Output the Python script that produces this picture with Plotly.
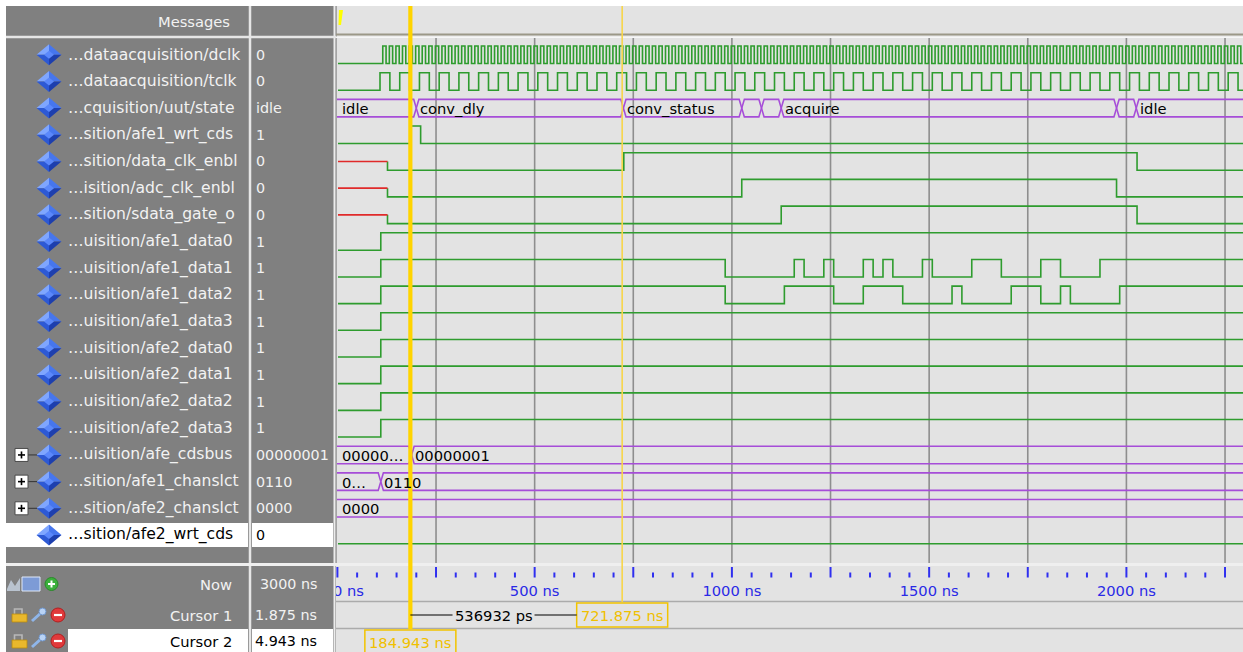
import plotly.graph_objects as go

# ======================= data =======================
signal_names = [
    "…dataacquisition/dclk", "…dataacquisition/tclk", "…cquisition/uut/state",
    "…sition/afe1_wrt_cds", "…sition/data_clk_enbl", "…isition/adc_clk_enbl",
    "…sition/sdata_gate_o", "…uisition/afe1_data0", "…uisition/afe1_data1",
    "…uisition/afe1_data2", "…uisition/afe1_data3", "…uisition/afe2_data0",
    "…uisition/afe2_data1", "…uisition/afe2_data2", "…uisition/afe2_data3",
    "…uisition/afe_cdsbus", "…sition/afe1_chanslct", "…sition/afe2_chanslct",
    "…sition/afe2_wrt_cds",
]
signal_values = ["0", "0", "idle", "1", "0", "0", "0", "1", "1", "1", "1",
                 "1", "1", "1", "1", "00000001", "0110", "0000", "0"]
expandable_rows = [15, 16, 17]
selected_row = 18

# clocks (ns)
dclk_first_rise_ns = 115.0
dclk_period_ns = 16.667
tclk_first_rise_ns = 108.0
tclk_period_ns = 50.0

# single-bit signals: change times (ns) and levels ("X" = unknown)
afe1_wrt_cds_t = [0, 186, 211]
afe1_wrt_cds_v = ["0", "1", "0"]
data_clk_enbl_t = [0, 127, 726, 2027]
data_clk_enbl_v = ["X", "0", "1", "0"]
adc_clk_enbl_t = [0, 127, 1025, 1975]
adc_clk_enbl_v = ["X", "0", "1", "0"]
sdata_gate_o_t = [0, 127, 1125, 2027]
sdata_gate_o_v = ["X", "0", "1", "0"]
afe1_data0_t = [0, 110]
afe1_data0_v = ["0", "1"]
afe1_data1_t = [0, 110, 983, 1158, 1183, 1233, 1258, 1333, 1358, 1383, 1408,
                1483, 1508, 1608, 1683, 1783, 1833, 1933]
afe1_data1_v = ["0", "1", "0", "1", "0", "1", "0", "1", "0", "1", "0",
                "1", "0", "1", "0", "1", "0", "1"]
afe1_data2_t = [0, 110, 983, 1133, 1258, 1333, 1433, 1558, 1583, 1708, 1783,
                1833, 1858, 1983]
afe1_data2_v = ["0", "1", "0", "1", "0", "1", "0", "1", "0", "1", "0",
                "1", "0", "1"]
afe1_data3_t = [0, 110]
afe1_data3_v = ["0", "1"]
afe2_data0_t = [0, 110]
afe2_data0_v = ["0", "1"]
afe2_data1_t = [0, 110]
afe2_data1_v = ["0", "1"]
afe2_data2_t = [0, 110]
afe2_data2_v = ["0", "1"]
afe2_data3_t = [0, 110]
afe2_data3_v = ["0", "1"]
afe2_wrt_cds_t = [0]
afe2_wrt_cds_v = ["0"]

# buses: change times (ns) and displayed values
state_t = [0, 200, 725, 1025, 1075, 1125, 1975, 2025]
state_v = ["idle", "conv_dly", "conv_status", "", "", "acquire", "", "idle"]
cdsbus_t = [0, 188]
cdsbus_v = ["00000…", "00000001"]
chanslct1_t = [0, 110]
chanslct1_v = ["0…", "0110"]
chanslct2_t = [0]
chanslct2_v = ["0000"]

cursor_names = ["Cursor 1", "Cursor 2"]
cursor_times_ns = [721.875, 184.943]
now_ns = 3000
time_label_step_ns = 500
major_tick_ns = 250
minor_tick_ns = 50

clock_rows = {0: (dclk_first_rise_ns, dclk_period_ns),
              1: (tclk_first_rise_ns, tclk_period_ns)}
logic_rows = {
    3: (afe1_wrt_cds_t, afe1_wrt_cds_v), 4: (data_clk_enbl_t, data_clk_enbl_v),
    5: (adc_clk_enbl_t, adc_clk_enbl_v), 6: (sdata_gate_o_t, sdata_gate_o_v),
    7: (afe1_data0_t, afe1_data0_v), 8: (afe1_data1_t, afe1_data1_v),
    9: (afe1_data2_t, afe1_data2_v), 10: (afe1_data3_t, afe1_data3_v),
    11: (afe2_data0_t, afe2_data0_v), 12: (afe2_data1_t, afe2_data1_v),
    13: (afe2_data2_t, afe2_data2_v), 14: (afe2_data3_t, afe2_data3_v),
    18: (afe2_wrt_cds_t, afe2_wrt_cds_v),
}
bus_rows = {2: (state_t, state_v), 15: (cdsbus_t, cdsbus_v),
            16: (chanslct1_t, chanslct1_v), 17: (chanslct2_t, chanslct2_v)}

# ======================= layout constants =======================
W, H = 1243, 652
PX_PER_NS = 0.3945
X0_PX = 337.4
WAVE_LEFT = 336
T_MIN = (WAVE_LEFT - X0_PX) / PX_PER_NS
T_MAX = (W - X0_PX) / PX_PER_NS
ROW0_LOW = 63.5
PITCH = 26.68
SWING = 17.5
FONT = "DejaVu Sans"
FS = 14.7
FS_NAME = 15.6
FS_VAL = 14.3
GREEN = "#2e9c2e"
PURPLE = "#a64dd8"
RED = "#e02a2a"
PANEL = "#808080"
WAVE_BG = "#e3e3e3"
TXT = "#f2f2f2"
BLUE = "#2f2ff0"
YEL = "#ffd400"


def row_low(i):
    return ROW0_LOW + PITCH * i


def pxw(px):
    return px / PX_PER_NS


shapes = []
annotations = []


def rect(x0, y0, x1, y1, fill, layer="below", line_color=None, lw=0):
    shapes.append(dict(type="rect", xref="paper", yref="y", x0=x0 / W, x1=x1 / W,
                       y0=y0, y1=y1, fillcolor=fill, layer=layer,
                       line=dict(width=lw, color=line_color or fill)))


def hline(x0, x1, y, color, width, layer="above"):
    shapes.append(dict(type="line", xref="paper", yref="y", x0=x0 / W, x1=x1 / W,
                       y0=y, y1=y, line=dict(color=color, width=width), layer=layer))


def vline(x, y0, y1, color, width, layer="above"):
    shapes.append(dict(type="line", xref="paper", yref="y", x0=x / W, x1=x / W,
                       y0=y0, y1=y1, line=dict(color=color, width=width), layer=layer))


def poly(pts, fill, line_color=None, lw=0):
    d = "M " + " L ".join(f"{x / W:.6f},{y:.3f}" for x, y in pts) + " Z"
    shapes.append(dict(type="path", xref="paper", yref="y", path=d, fillcolor=fill,
                       line=dict(width=lw, color=line_color or fill), layer="above"))


def text(x, y, s, color=TXT, anchor="left", size=FS, xref="paper"):
    annotations.append(dict(x=x / W if xref == "paper" else x, y=y, xref=xref, yref="y",
                            text=s, showarrow=False, xanchor=anchor, yanchor="middle",
                            font=dict(family=FONT, size=size, color=color)))


# ---------------- backgrounds ----------------
rect(6, 6, WAVE_LEFT, H, PANEL)
rect(WAVE_LEFT, 6, W, H, WAVE_BG)
sy = row_low(selected_row) - SWING / 2
rect(6, sy - 12, 248, sy + 12, "#ffffff")
rect(252, sy - 12, 333, sy + 12, "#ffffff")
rect(68, 629, 248, H, "#ffffff")
rect(252, 629, 333, H, "#ffffff")

# separators
vline(250, 6, H, "#e6e6e6", 2.5)
vline(334.5, 6, H, "#ececec", 2)
vline(336.5, 6, 563, "#a4a4a4", 1)
hline(6, WAVE_LEFT, 37, "#e6e6e6", 2.5)
hline(WAVE_LEFT, W, 34.5, "#9b9888", 2)
hline(WAVE_LEFT, W, 37.2, "#f6f6f6", 1.5)
hline(6, W, 564.5, "#efefef", 3)
hline(WAVE_LEFT, W, 601.5, "#ababab", 1.5)
hline(WAVE_LEFT, W, 628.5, "#ababab", 1.5)

# yellow marker in wave header
poly([(339, 10), (343, 10), (341, 25), (338.5, 25)], "#ffff00")

# ---------------- left panel ----------------
text(232, 21, "Messages", anchor="right")


def diamond(cx, cy):
    a, b = 12.5, 10.5
    top, right, bot, left, c = (cx, cy - b), (cx + a, cy), (cx, cy + b), (cx - a, cy), (cx, cy)
    poly([left, top, c], "#7fa6ff")
    poly([top, right, c], "#4676ee")
    poly([right, bot, c], "#1d3fae")
    poly([bot, left, c], "#2d59d4")
    poly([(cx - 5, cy), (cx, cy - 4), (cx + 5, cy), (cx, cy + 4)], "#5b88fb")


for i, (nm, val) in enumerate(zip(signal_names, signal_values)):
    cy = row_low(i) - SWING / 2
    col = "#000000" if i == selected_row else TXT
    diamond(49, cy)
    text(66, cy, nm, color=col, size=FS_NAME)
    text(254, cy, val, color=col, size=FS_VAL)
    if i in expandable_rows:
        hline(28, 37, cy, "#333333", 1)
        rect(15, cy - 6.5, 28, cy + 6.5, "#ffffff", layer="above", line_color="#4a4a4a", lw=1)
        hline(18, 25, cy, "#000000", 1.6)
        vline(21.5, cy - 3.5, cy + 3.5, "#000000", 1.6)

# bottom rows: Now / Cursors
now_y, c1_y, c2_y = 584, 615, 641
text(234, now_y, "Now", anchor="right")
text(319, now_y, f"{now_ns} ns", anchor="right", size=FS_VAL)
poly([(7, now_y + 5), (11, now_y - 4), (15, now_y + 2), (20, now_y - 6), (20, now_y + 7), (7, now_y + 7)], "#b9c3cf")
rect(22, now_y - 7, 40, now_y + 7, "#7d9bd6", layer="above", line_color="#dfe8f8", lw=1)
shapes.append(dict(type="circle", xref="paper", yref="y", x0=45 / W, x1=58 / W,
                   y0=now_y - 6.5, y1=now_y + 6.5, fillcolor="#3cb03c",
                   line=dict(color="#2a8a2a", width=1), layer="above"))
hline(48, 55, now_y, "#ffffff", 2)
vline(51.5, now_y - 3.5, now_y + 3.5, "#ffffff", 2)

for name, t, cy in zip(cursor_names, cursor_times_ns, [c1_y, c2_y]):
    col = "#000000" if name == cursor_names[1] else TXT
    text(234, cy, name, color=col, anchor="right")
    full = f"{t:.3f} ns"
    text(319, cy, full[-8:], color=col, anchor="right", size=FS_VAL)
    shapes.append(dict(type="path", xref="paper", yref="y",
                       path=f"M {14.5 / W},{cy - 1} L {14.5 / W},{cy - 6} L {22 / W},{cy - 6} L {22 / W},{cy - 1}",
                       line=dict(color="#b8b8b8", width=1.6), layer="above"))
    rect(12, cy - 1, 27, cy + 7, "#e9b82c", layer="above", line_color="#b88a10", lw=0.8)
    shapes.append(dict(type="line", xref="paper", yref="y", x0=32 / W, x1=42 / W,
                       y0=cy + 6, y1=cy - 3, line=dict(color="#8fb6ea", width=3), layer="above"))
    shapes.append(dict(type="circle", xref="paper", yref="y", x0=39 / W, x1=46 / W,
                       y0=cy - 7, y1=cy, fillcolor="#b9d3f5",
                       line=dict(color="#6f96cc", width=1), layer="above"))
    shapes.append(dict(type="circle", xref="paper", yref="y", x0=51 / W, x1=65 / W,
                       y0=cy - 7, y1=cy + 7, fillcolor="#e0393b",
                       line=dict(color="#b02020", width=1), layer="above"))
    hline(54, 62, cy, "#ffffff", 2.2)

# ======================= waveform traces =======================
traces = []

gx, gy = [], []
t = major_tick_ns
while t < T_MAX:
    gx += [t, t, None]
    gy += [38, 563, None]
    t += major_tick_ns
traces.append(go.Scatter(x=gx, y=gy, mode="lines", line=dict(color="#8e8e8e", width=1.6),
                         hoverinfo="skip"))


def logic_trace(times, levels, row):
    low = row_low(row)
    ymap = {"0": low, "1": low - SWING, "X": low - SWING / 2}
    ends = list(times[1:]) + [T_MAX + 5]
    gxs, gys, rxs, rys = [], [], [], []
    prev = None
    for a, b, v in zip(times, ends, levels):
        y = ymap[v]
        a0 = a if a > 0 else T_MIN + pxw(2)
        if v == "X":
            if gxs and gxs[-1] is not None:
                gxs.append(None); gys.append(None)
            rxs += [a0, b, None]
            rys += [y, y, None]
        else:
            if prev is not None:
                gxs.append(a0); gys.append(prev)
            gxs += [a0, b]
            gys += [y, y]
        prev = y
    out = [go.Scatter(x=gxs, y=gys, mode="lines", line=dict(color=GREEN, width=1.6),
                      hoverinfo="skip")]
    if rxs:
        out.append(go.Scatter(x=rxs, y=rys, mode="lines", line=dict(color=RED, width=1.6),
                              hoverinfo="skip"))
    return out


def clock_levels(first_rise, period):
    ts, vs = [0.0], ["0"]
    edge, lvl = first_rise, "1"
    while edge < T_MAX:
        ts.append(edge)
        vs.append(lvl)
        edge += period / 2
        lvl = "0" if lvl == "1" else "1"
    return ts, vs


for row, (fr, per) in clock_rows.items():
    ts, vs = clock_levels(fr, per)
    traces += logic_trace(ts, vs, row)

for row, (ts, vs) in logic_rows.items():
    traces += logic_trace(ts, vs, row)

D = pxw(2.6)
for row, (ts, vs) in bus_rows.items():
    low = row_low(row)
    high = low - SWING
    mid = low - SWING / 2
    ends = list(ts[1:]) + [None]
    bx, by = [], []
    for k, (a, b, lab) in enumerate(zip(ts, ends, vs)):
        for lvl in (high, low):
            if k == 0:
                px_, py_ = [T_MIN - 5], [lvl]
            else:
                px_, py_ = [a, a + D], [mid, lvl]
            if b is None:
                px_ += [T_MAX + 5]
                py_ += [lvl]
            else:
                px_ += [b - D, b]
                py_ += [lvl, mid]
            bx += px_ + [None]
            by += py_ + [None]
        if lab:
            text(a + (pxw(2.5) if k == 0 else pxw(1.6)), mid + 0.5, lab, color="#000000",
                 xref="x")
    traces.append(go.Scatter(x=bx, y=by, mode="lines", line=dict(color=PURPLE, width=1.6),
                             hoverinfo="skip"))

# time axis ticks
mx, my, nx, ny = [], [], [], []
t = 0
while t <= T_MAX:
    if t % major_tick_ns == 0:
        mx += [t, t, None]; my += [567, 577.5, None]
    else:
        nx += [t, t, None]; ny += [572.5, 577.5, None]
    t += minor_tick_ns
traces.append(go.Scatter(x=mx, y=my, mode="lines", line=dict(color=BLUE, width=2), hoverinfo="skip"))
traces.append(go.Scatter(x=nx, y=ny, mode="lines", line=dict(color=BLUE, width=2), hoverinfo="skip"))

# labels: centred on their tick, but a label is never pushed past the left edge by more
# than a few pixels (the first one is clamped, as in the viewer)
lab_t, lab_x = [], []
t = 0
while t <= T_MAX:
    lab = f"{t} ns"
    half_w = 0.52 * FS * (len(lab) - 1) / 2 + 4
    cx_px = max(X0_PX + t * PX_PER_NS, WAVE_LEFT - 3 + half_w)
    lab_t.append(lab)
    lab_x.append((cx_px - X0_PX) / PX_PER_NS)
    t += time_label_step_ns
traces.append(go.Scatter(x=lab_x, y=[592] * len(lab_x), mode="text",
                         text=lab_t, textposition="middle center",
                         textfont=dict(family=FONT, size=FS, color="#2a2ae6"),
                         cliponaxis=True, hoverinfo="skip"))

# ======================= cursors =======================
c1_t, c2_t = cursor_times_ns
shapes.append(dict(type="line", xref="x", yref="y", x0=c1_t, x1=c1_t, y0=6, y1=602,
                   line=dict(color="#f7d54a", width=1.6), layer="above"))
shapes.append(dict(type="line", xref="x", yref="y", x0=c2_t, x1=c2_t, y0=6, y1=629,
                   line=dict(color=YEL, width=4.2), layer="above"))

half_box = pxw(45.5)
for t, (y0, y1) in zip(cursor_times_ns, [(603, 627), (630, 653)]):
    shapes.append(dict(type="rect", xref="x", yref="y", x0=t - half_box, x1=t + half_box,
                       y0=y0, y1=y1, fillcolor=WAVE_BG, line=dict(color="#f2c400", width=1.5),
                       layer="above"))
    text(t, (y0 + y1) / 2 + 0.5, f"{t:.3f} ns", color="#f0c000", anchor="center", xref="x")

delta_ps = round((c1_t - c2_t) * 1000)
box_left = c1_t - half_box
mid_t = (c2_t + box_left) / 2
half_lab = pxw(41)
for a, b in [(c2_t, mid_t - half_lab), (mid_t + half_lab, box_left)]:
    shapes.append(dict(type="line", xref="x", yref="y", x0=a, x1=b, y0=c1_y, y1=c1_y,
                       line=dict(color="#000000", width=1.2), layer="above"))
text(mid_t, c1_y + 0.5, f"{delta_ps} ps", color="#000000", anchor="center", xref="x")

# ======================= figure =======================
fig = go.Figure(data=traces)
fig.update_layout(
    width=W, height=H, margin=dict(l=0, r=0, t=0, b=0),
    paper_bgcolor="#ffffff", plot_bgcolor="rgba(0,0,0,0)",
    showlegend=False, hovermode=False,
    xaxis=dict(domain=[WAVE_LEFT / W, 1], range=[T_MIN, T_MAX], visible=False, fixedrange=True),
    yaxis=dict(domain=[0, 1], range=[H, 0], visible=False, fixedrange=True),
    shapes=shapes, annotations=annotations,
)
fig.write_html("out.html", config={"displayModeBar": False},
               post_script="document.body.style.margin='0';document.body.style.overflow='hidden';")
